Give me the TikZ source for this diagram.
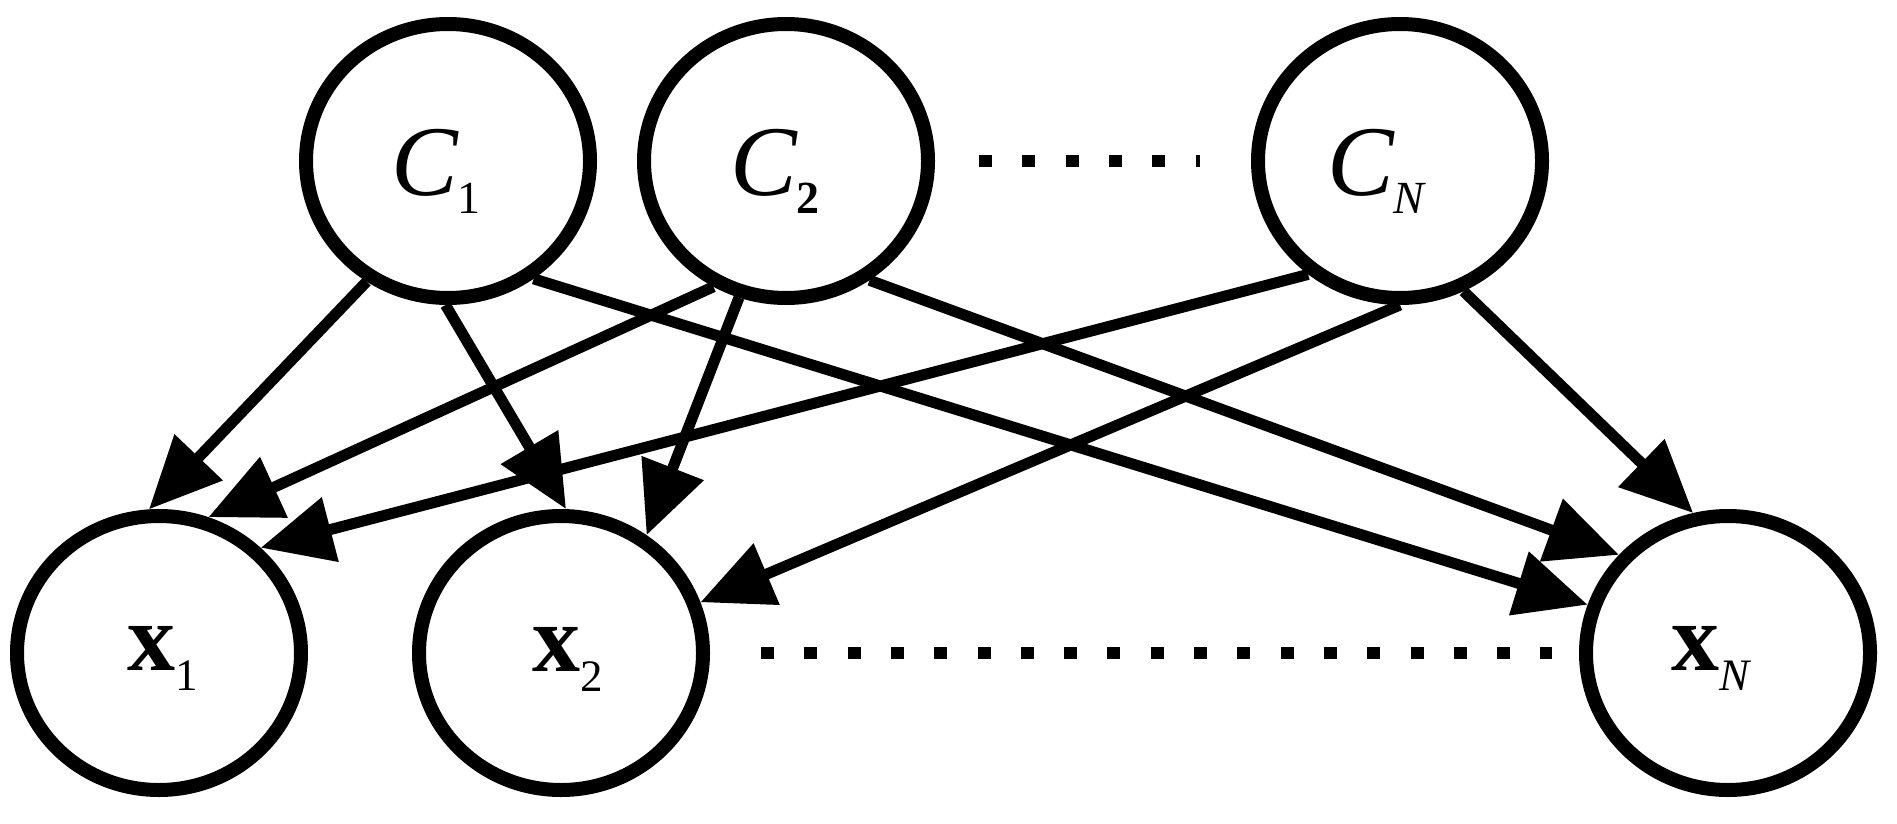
\documentclass[tikz,border=0pt]{standalone}
\usepackage{fontspec}
\setmainfont{Liberation Serif}
\usetikzlibrary{arrows.meta,shapes.geometric,calc}
\newcommand{\labC}[1]{{\fontsize{100}{100}\selectfont\itshape C}\raisebox{-18pt}{\fontsize{46}{46}\selectfont #1}}
\newcommand{\labX}[1]{{\fontsize{96}{96}\selectfont\bfseries x}\raisebox{-20pt}{\fontsize{45}{45}\selectfont #1}}
\begin{document}
\begin{tikzpicture}[x=1pt,y=-1pt,
  var/.style={ellipse, draw, line width=14pt, minimum width=284pt, minimum height=274pt, inner sep=0pt},
  lab/.style={anchor=base west, inner sep=0pt, outer sep=0pt},
  edge/.style={line width=11pt, -{Triangle[length=72pt,width=64pt]}},
  dots/.style={line width=12pt, dash pattern=on 13pt off 30.3pt}]
\fill[white] (0,0) rectangle (1897,824);
\useasboundingbox (0,0) rectangle (1897,824);

\node[var] (C1) at (448,161) {};
\node[var] (C2) at (786,161) {};
\node[var] (CN) at (1400,161) {};
\node[var] (X1) at (159,653) {};
\node[var] (X2) at (561,653) {};
\node[var] (XN) at (1728,653) {};

\node[lab] (C1t) at (391,195) {\labC{1}};
\node[lab] (C2t) at (730,195) {\labC{\bfseries 2}};
\node[lab] (CNt) at (1327,195) {\labC{\itshape N}};
\node[lab] (X1t) at (127,670) {\labX{1}};
\node[lab] (X2t) at (532,671) {\labX{2}};
\node[lab] (XNt) at (1671,670) {\labX{\itshape N}};

\draw[edge] (C1.236) -- (X1.94);
\draw[edge] (C1.269) -- (X2.88);
\draw[edge] (C1.306) -- (XN.161);
\draw[edge] (C2.240) -- (X1.70);
\draw[edge] (C2.251) -- (X2.54);
\draw[edge] (C2.305) -- (XN.138);
\draw[edge] (CN.231) -- (X1.46);
\draw[edge] (CN.270) -- (X2.20);
\draw[edge] (CN.296) -- (XN.104);

\draw[dots] ([xshift=44pt]C2.east) -- ([xshift=-51pt]CN.west);
\draw[dots] ([xshift=51pt]X2.east) -- ([xshift=-27pt]XN.west);
\end{tikzpicture}
\end{document}
